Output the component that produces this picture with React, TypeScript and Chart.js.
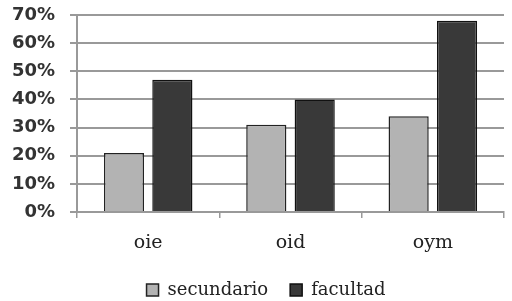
import React, { useEffect, useRef } from "react";
import { Chart, registerables } from "chart.js";

Chart.register(...registerables);

const categories = ["oie", "oid", "oym"];
const secundario = [21, 31, 34];
const facultad = [47, 40, 68];
const yTicks = [0, 10, 20, 30, 40, 50, 60, 70];

const legendHeightPlugin = {
  id: "legendHeight",
  beforeLayout(chart: any) {
    const l = chart.legend;
    if (l && !l._patched) {
      const orig = l.fit.bind(l);
      l.fit = function () {
        orig();
        this.height = 42;
      };
      l._patched = true;
    }
  },
  afterLayout(chart: any) {
    const l = chart.legend;
    if (l) {
      l.left += 28;
    }
  },
};

export default function App() {
  const ref = useRef<HTMLCanvasElement>(null);
  useEffect(() => {
    const chart = new Chart(ref.current!, {
      type: "bar",
      data: {
        labels: categories,
        datasets: [
          {
            label: "secundario",
            data: secundario,
            backgroundColor: "#b3b3b3",
            borderColor: "#222222",
            borderWidth: 1.5,
          },
          {
            label: "facultad",
            data: facultad,
            backgroundColor: "#393939",
            borderColor: "#111111",
            borderWidth: 1.5,
          },
        ],
      },
      plugins: [legendHeightPlugin],
      options: {
        animation: false,
        responsive: false,
        maintainAspectRatio: false,
        layout: { padding: { top: 15, right: 8, left: 0, bottom: 0 } },
        datasets: { bar: { categoryPercentage: 0.68, barPercentage: 0.83 } },
        plugins: {
          tooltip: { enabled: false },
          legend: {
            position: "bottom",
            labels: {
              boxWidth: 12,
              boxHeight: 12,
              padding: 22,
              color: "#222",
              font: { family: "'DejaVu Serif', serif", size: 18 },
            },
          },
        },
        scales: {
          x: {
            grid: {
              display: true,
              drawOnChartArea: false,
              drawTicks: true,
              tickLength: 6,
              offset: true,
              color: "#999",
              lineWidth: 1.5,
            },
            border: { display: true, color: "#999", width: 2 },
            ticks: {
              color: "#222",
              padding: 14,
              font: { family: "'DejaVu Serif', serif", size: 19 },
            },
            afterFit: (s: any) => {
              s.height = 47;
            },
          },
          y: {
            min: 0,
            max: 70,
            afterBuildTicks: (s: any) => {
              s.ticks = yTicks.map((v) => ({ value: v }));
            },
            grid: {
              color: "#999",
              lineWidth: 2,
              tickLength: 7,
            },
            border: { display: true, color: "#999", width: 2 },
            ticks: {
              color: "#333",
              padding: 15,
              font: { family: "'DejaVu Sans', sans-serif", size: 18, weight: "bold" },
              callback: (v: any) => v + "%",
            },
            afterFit: (s: any) => {
              s.width = 77;
              s.paddingTop = 0;
              s.paddingBottom = 0;
            },
          },
        },
      },
    });
    return () => chart.destroy();
  }, []);
  return (
    <div style={{ position: "fixed", left: 0, top: 0, width: 512, height: 301, background: "#fff" }}>
      <canvas ref={ref} width={512} height={301} />
    </div>
  );
}
